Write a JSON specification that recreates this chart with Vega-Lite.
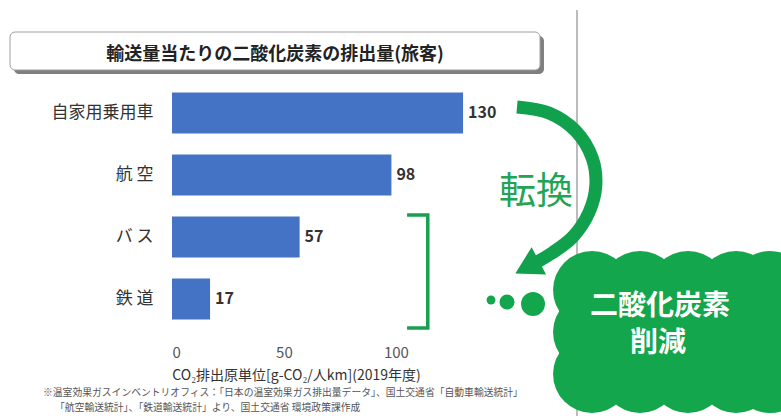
{
  "$schema": "https://vega.github.io/schema/vega-lite/v6.json",
  "width": 609,
  "height": 248,
  "autosize": {"type": "none"},
  "padding": {"left": 172, "top": 82, "right": 0, "bottom": 86},
  "background": "white",
  "config": {"font": "Noto Sans CJK JP", "view": {"stroke": null}},
  "title": {
    "text": "輸送量当たりの二酸化炭素の排出量(旅客)",
    "anchor": "middle",
    "frame": "group",
    "dx": -201.5,
    "offset": -64,
    "baseline": "middle",
    "fontSize": 18,
    "fontWeight": "bold",
    "color": "#222222"
  },
  "layer": [
    {
      "data": {
        "values": [
          {"mode": "自家用乗用車", "value": 130},
          {"mode": "航 空", "value": 98},
          {"mode": "バ ス", "value": 57},
          {"mode": "鉄 道", "value": 17}
        ]
      },
      "encoding": {
        "y": {
          "field": "mode",
          "type": "nominal",
          "sort": null,
          "scale": {"paddingInner": 0.34, "paddingOuter": 0.17},
          "axis": {
            "title": null,
            "domain": false,
            "ticks": false,
            "tickSize": 0,
            "grid": false,
            "labelFontSize": 17,
            "labelColor": "#333333",
            "labelPadding": 19
          }
        },
        "x": {
          "field": "value",
          "type": "quantitative",
          "scale": {"domain": [0, 272], "nice": false},
          "axis": {
            "values": [0, 50, 100],
            "title": "CO₂排出原単位[g-CO₂/人km](2019年度)",
            "domain": false,
            "ticks": false,
            "tickSize": 0,
            "grid": false,
            "labelFontSize": 15,
            "labelColor": "#555555",
            "labelPadding": 15,
            "titleFontSize": 14,
            "titleFontWeight": "normal",
            "titleColor": "#333333",
            "titleX": 124,
            "titleY": 45,
            "titleAlign": "center",
            "titleBaseline": "middle"
          }
        }
      },
      "layer": [
        {"mark": {"type": "bar", "color": "#4472c4"}},
        {
          "mark": {"type": "text", "align": "left", "baseline": "middle", "dx": 5, "fontSize": 16, "fontWeight": "bold", "color": "#333333"},
          "encoding": {"text": {"field": "value", "type": "quantitative"}}
        }
      ]
    },
    {
      "encoding": {
        "x": {"field": "ax", "type": "quantitative", "scale": {"domain": [0, 100], "nice": false, "zero": false}, "axis": null},
        "y": {"field": "ay", "type": "quantitative", "scale": {"domain": [0, 100], "nice": false, "zero": false}, "axis": null}
      },
      "layer": [
        {
          "data": {"values": [{"ax": 66.5, "ay": 129.0, "ay2": -34.7}]},
          "mark": {"type": "rule", "color": "#a6a6a6", "strokeWidth": 1.5},
          "encoding": {"y2": {"field": "ay2"}}
        },
        {
          "data": {"values": [{"ax": -25.94, "ay": 118.55, "ax2": 61.08, "ay2": 103.23}]},
          "mark": {"type": "rect", "color": "#7f7f7f", "cornerRadius": 5},
          "encoding": {"x2": {"field": "ax2"}, "y2": {"field": "ay2"}}
        },
        {
          "data": {"values": [{"ax": -26.6, "ay": 120.16, "ax2": 60.43, "ay2": 104.84}]},
          "mark": {"type": "rect", "fill": "white", "stroke": "#a0a0a0", "strokeWidth": 1, "cornerRadius": 5},
          "encoding": {"x2": {"field": "ax2"}, "y2": {"field": "ay2"}}
        },
        {
          "data": {"values": [
            {"i": 1, "ax": 38.6, "ay": 46.4},
            {"i": 2, "ax": 42.0, "ay": 46.4},
            {"i": 3, "ax": 42.0, "ay": 0.8},
            {"i": 4, "ax": 38.6, "ay": 0.8}
          ]},
          "mark": {"type": "line", "color": "#17a04f", "strokeWidth": 3.5, "strokeJoin": "miter", "strokeCap": "butt"},
          "encoding": {"order": {"field": "i", "type": "quantitative"}}
        },
        {
          "data": {"values": [
            {"i": 1, "ax": 56.65, "ay": 89.92},
            {"i": 2, "ax": 61.9, "ay": 87.5},
            {"i": 3, "ax": 66.3, "ay": 80.24},
            {"i": 4, "ax": 69.0, "ay": 69.35},
            {"i": 5, "ax": 69.6, "ay": 58.47},
            {"i": 6, "ax": 68.5, "ay": 47.58},
            {"i": 7, "ax": 65.8, "ay": 37.5},
            {"i": 8, "ax": 62.4, "ay": 31.05},
            {"i": 9, "ax": 59.93, "ay": 27.42}
          ]},
          "mark": {"type": "line", "color": "#11a04c", "strokeWidth": 13, "interpolate": "catmull-rom", "strokeCap": "butt"},
          "encoding": {"order": {"field": "i", "type": "quantitative"}}
        },
        {
          "data": {"values": [{"ax": 58.95, "ay": 26.2}]},
          "mark": {"type": "point", "shape": "triangle", "filled": true, "size": 950, "angle": 242, "color": "#11a04c", "opacity": 1}
        },
        {
          "data": {"values": [{"ax": 59.77, "ay": 55.24, "t": "転換"}]},
          "mark": {"type": "text", "fontSize": 37, "color": "#22a454", "baseline": "middle"},
          "encoding": {"text": {"field": "t"}}
        },
        {
          "data": {"values": [{"ax": 52.38, "ay": 12.1}]},
          "mark": {"type": "circle", "size": 79, "color": "#14a64c", "opacity": 1}
        },
        {
          "data": {"values": [{"ax": 55.01, "ay": 11.29}]},
          "mark": {"type": "circle", "size": 227, "color": "#14a64c", "opacity": 1}
        },
        {
          "data": {"values": [{"ax": 59.28, "ay": 10.48}]},
          "mark": {"type": "circle", "size": 573, "color": "#14a64c", "opacity": 1}
        },
        {
          "data": {"values": [
            {"ax": 68.97, "ay": 16.13}, {"ax": 76.85, "ay": 16.13}, {"ax": 84.73, "ay": 16.13}, {"ax": 92.61, "ay": 16.13}, {"ax": 98.19, "ay": 16.13},
            {"ax": 68.97, "ay": -0.81}, {"ax": 76.85, "ay": -0.81}, {"ax": 84.73, "ay": -0.81}, {"ax": 92.61, "ay": -0.81}, {"ax": 98.19, "ay": -0.81},
            {"ax": 68.97, "ay": -17.74}, {"ax": 76.85, "ay": -17.74}, {"ax": 84.73, "ay": -17.74}, {"ax": 92.61, "ay": -17.74}, {"ax": 98.19, "ay": -17.74}
          ]},
          "mark": {"type": "circle", "size": 6082, "color": "#14a64c", "opacity": 1}
        },
        {
          "data": {"values": [
            {"ax": 80.13, "ay": 9.27, "t": "二酸化炭素"},
            {"ax": 79.8, "ay": -5.65, "t": "削減"}
          ]},
          "mark": {"type": "text", "fontSize": 28, "fontWeight": "bold", "color": "white", "baseline": "middle"},
          "encoding": {"text": {"field": "t"}}
        },
        {
          "data": {"values": [
            {"ax": -21.18, "ay": -25.6, "t": "※温室効果ガスインベントリオフィス：「日本の温室効果ガス排出量データ」、国土交通省「自動車輸送統計」"},
            {"ax": -19.21, "ay": -31.45, "t": "「航空輸送統計」、「鉄道輸送統計」より、国土交通省 環境政策課作成"}
          ]},
          "mark": {"type": "text", "align": "left", "baseline": "middle", "fontSize": 9.8, "color": "#555555"},
          "encoding": {"text": {"field": "t"}}
        }
      ]
    }
  ],
  "resolve": {"scale": {"x": "independent", "y": "independent"}}
}
